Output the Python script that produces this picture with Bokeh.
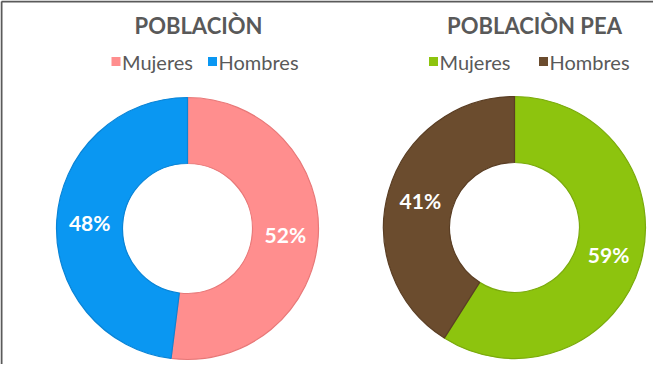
import numpy as np
from bokeh.plotting import figure
from bokeh.models import Range1d, ColumnDataSource
from bokeh.core.properties import value
from bokeh.embed import file_html
from bokeh.resources import INLINE

# ---- data ----
categories = ["Mujeres", "Hombres"]
titles = ["POBLACIÒN", "POBLACIÒN PEA"]
poblacion = [52, 48]
poblacion_pea = [59, 41]
colors_poblacion = ["#FF8E8E", "#0A97F2"]
colors_pea = ["#8DC40E", "#6B4C2E"]
edge_poblacion = ["#E87878", "#0A84D6"]
edge_pea = ["#7AAA0C", "#5A3E24"]

W, H = 653, 364
p = figure(width=W, height=H, output_backend="svg", toolbar_location=None,
           x_range=Range1d(8, 8 + W), y_range=Range1d(8, 8 + H),
           min_border=0)
p.axis.visible = False
p.grid.visible = False
p.outline_line_color = None
p.background_fill_color = "white"

def Y(y_img):
    return 380 - y_img

# frame (top and left edges visible; the rest is off-page in the reference)
p.segment(x0=[9, 9], y0=[Y(9), Y(9)], x1=[661, 9], y1=[Y(9), Y(372)],
          line_color="#5A5A5A", line_width=2)

FONT = "Lato"
GRAY = "#595959"

def donut(vals, cols, edges, cx, cy, title, title_x, legend_x):
    vals = np.array(vals, dtype=float)
    frac = vals / vals.sum()
    cum = np.concatenate([[0], np.cumsum(frac)])
    # clockwise from 12 o'clock
    start = np.pi / 2 - cum[1:] * 2 * np.pi
    end = np.pi / 2 - cum[:-1] * 2 * np.pi
    r_in, r_out = 65, 131
    src = ColumnDataSource(dict(start=start, end=end, color=list(cols), edge=list(edges)))
    p.annular_wedge(x=cx, y=Y(cy), inner_radius=r_in, outer_radius=r_out,
                    start_angle="start", end_angle="end", fill_color="color",
                    line_color="edge", line_width=1.2, source=src)
    mid = (start + end) / 2
    rm = (r_in + r_out) / 2
    lx = cx + rm * np.cos(mid)
    ly = Y(cy) + rm * np.sin(mid)
    labels = [f"{int(v)}%" for v in vals]
    p.text(x=lx, y=ly, text=labels, text_color="white", text_font=value(FONT),
           text_font_style="bold", text_font_size="21px", text_align="center",
           text_baseline="middle")
    p.text(x=[title_x], y=[Y(33)], text=[title], text_color=GRAY,
           text_font=value(FONT), text_font_style="bold", text_font_size="22px",
           text_align="center", text_baseline="middle")
    # legend
    sq_x = [legend_x[0], legend_x[1]]
    p.scatter(x=sq_x, y=[Y(69), Y(69)], marker="square", size=9,
              fill_color=list(cols), line_color=None)
    p.text(x=[x + 6 for x in sq_x], y=[Y(69), Y(69)], text=categories,
           text_color=GRAY, text_font=value(FONT), text_font_size="20px",
           text_align="left", text_baseline="middle")

donut(poblacion, colors_poblacion, edge_poblacion, 195, 236, titles[0], 206, (123.5, 220))
donut(poblacion_pea, colors_pea, edge_pea, 522, 235, titles[1], 542, (441, 551))

open("out.html", "w").write(file_html(p, INLINE))
